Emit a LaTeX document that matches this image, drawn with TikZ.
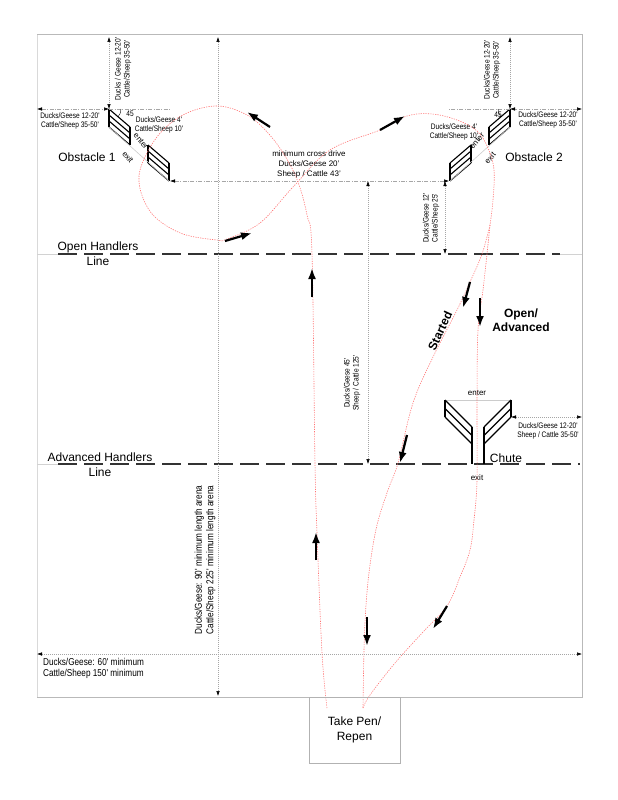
\documentclass[tikz,border=0pt]{standalone}
\usepackage{fontspec}
\setmainfont{Liberation Sans}
\newfontfamily\narrowsans[FakeStretch=0.82]{Liberation Sans}
\usetikzlibrary{arrows.meta}

\tikzset{
  dimtip/.tip={Latex[length=5pt,width=3.5pt,color=black]},
  both/.style={dimtip-dimtip},
  frame/.style={draw=gray!55, line width=1pt},
  fence/.style={draw=black, line width=1.1pt},
  gate/.style={draw=gray!40, line width=0.6pt},
  dotline/.style={draw=gray!70, line width=0.5pt, dash pattern=on 0.8pt off 1.2pt},
  dashdotline/.style={draw=gray!70, line width=0.5pt, dash pattern=on 4pt off 1.5pt on 0.8pt off 1.5pt},
  course/.style={draw=red!55, line width=0.6pt, dash pattern=on 1.2pt off 1.2pt},
  flow/.style={draw=black, line width=2.2pt, -{Latex[length=11pt,width=8pt]}},
  handlers/.style={draw=black!80, line width=1.6pt, dash pattern=on 19pt off 7pt},
  dimtxt/.style={font=\narrowsans\fontsize{8}{9}\selectfont, align=center, inner sep=1pt},
  bigdim/.style={dimtxt, font=\narrowsans\fontsize{10}{11.5}\selectfont},
  midtxt/.style={font=\fontsize{8}{10}\selectfont, align=center, inner sep=1pt},
  bigtxt/.style={font=\fontsize{12}{15}\selectfont, align=center, inner sep=1pt},
  boldtxt/.style={font=\bfseries\fontsize{12}{14}\selectfont, align=center, inner sep=1pt},
}

\begin{document}
\begin{tikzpicture}[x=1pt,y=-1pt]
\useasboundingbox (0,0) rectangle (618,800);

% arena
\draw[frame, draw=gray!30] (37,35) -- (37,697);
\draw[frame] (37,35) -- (582,35) -- (582,697) -- (37,697);
\draw[frame, draw=gray!35] (37,254) -- (58,254) (560,254) -- (582,254) (37,464) -- (58,464);
\draw[handlers] (58,254) -- (560,254);
\draw[handlers] (58,464) -- (580,464);
\node[bigtxt] (openline) at (98,253.5) {Open Handlers\\Line};
\node[bigtxt] (advline) at (100,464.5) {Advanced Handlers\\Line};

% obstacles
\foreach \s/\ox in {1/109,-1/510} {
  \begin{scope}[shift={(\ox,109)}, xscale=\s]
    \foreach \px/\py in {0/0,39/36} {
      \draw[fence] (\px,\py) -- ++(0,18);
      \draw[fence] (\px+21,\py+18) -- ++(0,18);
      \foreach \k in {0,6,12,18} \draw[fence] (\px,\py+\k) -- (\px+21,\py+18+\k);
    }
    \draw[gate] (0,18) -- (60,72);
    \draw[dotline, both] (0,-72) -- (0,0);
    \draw[dashdotline, both] (-72,0) -- (0,0);
    \draw[dashdotline] (0,0) -- (61,0);
    \draw[black, line width=0.4pt] (12,0) arc[start angle=0, end angle=42, radius=12];
  \end{scope}
}
\node[dimtxt, rotate=90] (obs1v) at (123,69) {Ducks / Geese 12-20'\\Cattle/Sheep 35-50'};
\node[dimtxt] (obs1h) at (70,121) {Ducks/Geese 12-20'\\Cattle/Sheep 35-50'};
\node[dimtxt] (obs1g) at (159,125) {Ducks/Geese 4'\\Cattle/Sheep 10'};
\node[dimtxt] (obs1a) at (130,114) {45};
\node[midtxt, rotate=-50] (obs1in) at (141,141) {enter};
\node[midtxt, rotate=-50] (obs1out) at (128,157) {exit};
\node[bigtxt] (obs1) at (87,157) {Obstacle 1};
\node[dimtxt, rotate=90] (obs2v) at (492,70) {Ducks/Geese 12-20'\\Cattle/Sheep 35-50'};
\node[dimtxt] (obs2h) at (548,120) {Ducks/Geese 12-20'\\Cattle/Sheep 35-50'};
\node[dimtxt] (obs2g) at (454,132) {Ducks/Geese 4'\\Cattle/Sheep 10'};
\node[dimtxt] (obs2a) at (498,115) {45};
\node[midtxt, rotate=50] (obs2in) at (477,141) {enter};
\node[midtxt, rotate=50] (obs2out) at (490,158) {exit};
\node[bigtxt] (obs2) at (534,157) {Obstacle 2};

% chute
\draw[gate] (445,400) -- (511,400);
\foreach \s in {1,-1} {
  \begin{scope}[shift={(478,0)}, xscale=\s]
    \draw[fence] (-33,400) -- (-33,417);
    \foreach \k in {0,8.5,17} \draw[fence] (-33,400+\k) -- (-6,427+\k);
    \draw[fence] (-6,427) -- (-6,464);
  \end{scope}
}
\node[midtxt] (chutein) at (477,393) {enter};
\node[midtxt] (chuteout) at (477,478) {exit};
\node[bigtxt] (chute) at (506,458) {Chute};

% dimensions
\draw[dashdotline, both] (170,181) -- (449,181);
\node[midtxt] (cross) at (309,164) {minimum cross drive\\Ducks/Geese 20'\\Sheep / Cattle 43'};
\draw[dotline, both] (445,181) -- (445,254);
\node[dimtxt, rotate=90] (gap) at (431,218) {Ducks/Geese 12'\\Cattle/Sheep 25'};
\draw[dotline, both] (368,181) -- (368,464);
\node[dimtxt, rotate=90] (depth) at (352,383) {Ducks/Geese 45'\\Sheep / Cattle 125'};
\draw[dotline, both] (511,417) -- (582,417);
\node[dimtxt] (chutedim) at (548,431) {Ducks/Geese 12-20'\\Sheep / Cattle 35-50'};
\draw[dotline, both] (218,37) -- (218,696);
\node[bigdim, rotate=90] (length) at (205,560) {Ducks/Geese: 90' minimum length arena\\Cattle/Sheep 225' minimum length arena};
\draw[dotline, both] (37,654) -- (582,654);
\node[bigdim, align=left, anchor=north west] (width) at (42,657) {Ducks/Geese: 60' minimum\\Cattle/Sheep 150' minimum};

% course
\draw[course] plot[smooth, tension=0.6] coordinates {(327,708) (322,653) (317,533) (315,464) (312,254) (307,215) (298,182) (285,156) (268,133) (247,115) (218,106) (187,113) (163,130) (147,153) (139,176) (143,198) (156,218) (183,234) (217,240) (227,239) (260,223) (293,187) (330,150) (380,130) (407,116) (432,114) (457,120) (477,131) (488,148) (494,170) (493,200) (490,225)};
\draw[course] plot[smooth, tension=0.6] coordinates {(490,225) (482,254) (470,282) (457,310) (433,357) (413,403) (398,463) (388,490) (377,525) (370,565) (366,605) (364,650) (363,708)};
\draw[course] plot[smooth, tension=0.6] coordinates {(490,225) (487,254) (483,290) (478,330) (477,400) (477,480) (474,520) (470,550) (460,577) (447,606) (423,632) (395,663) (370,695) (363,708)};
\draw[flow] (316,560) -- (316,532);
\draw[flow] (312,297) -- (312,268);
\draw[flow] (270,127) -- (247,112);
\draw[flow] (225,241) -- (252,233);
\draw[flow] (380,130) -- (405,116);
\draw[flow] (470,282) -- (463,308);
\draw[flow] (480,298) -- (480,327);
\draw[flow] (407,435) -- (400,463);
\draw[flow] (367,617) -- (367,646);
\draw[flow] (447,606) -- (433,629);
\node[boldtxt, rotate=65] (started) at (440,331) {Started};
\node[boldtxt] (openadv) at (521,320) {Open/\\Advanced};

% pen
\node[draw=gray!60, line width=0.8pt, minimum width=91pt, minimum height=66pt, bigtxt] (pen) at (354.5,730) {Take Pen/\\Repen};
\end{tikzpicture}
\end{document}
